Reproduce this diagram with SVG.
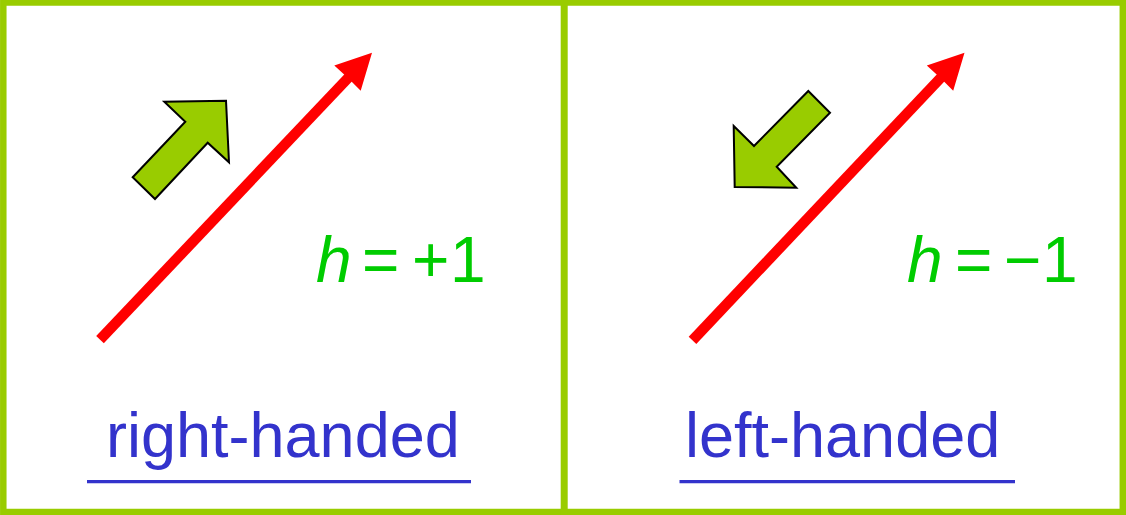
<svg xmlns="http://www.w3.org/2000/svg" width="1126" height="515" viewBox="0 0 1126 515">
<style>
.frame{fill:none;stroke:#99cc00;stroke-width:6.5}
.shaft{stroke:#ff0000;stroke-width:10.5;fill:none}
.head{fill:#ff0000}
.fat{fill:#99cc00;stroke:#000;stroke-width:2;stroke-linejoin:miter}
.math{font-family:"Liberation Sans",Arial,sans-serif;font-size:64px;fill:#00cc00}
.lab{font-family:"Liberation Sans",Arial,sans-serif;font-size:63px;fill:#3333cc}
.ul{stroke:#3333cc;stroke-width:3.3}
</style>
<rect width="1126" height="515" fill="#ffffff"/>
<g id="frame">
<rect class="frame" x="3.3" y="2.5" width="1119.5" height="509.5"/>
<line class="frame" x1="564.2" y1="0" x2="564.2" y2="515" style="stroke-width:7"/>
</g>
<g id="connectors">
<line class="shaft" x1="100" y1="339.7" x2="349" y2="77"/>
<polygon class="head" points="372,52.7 334.3,65.5 348,78 360.7,90.7"/>
<line class="shaft" x1="692.5" y1="340.3" x2="941.5" y2="77"/>
<polygon class="head" points="964.5,52.7 926.8,65.5 940.5,78 953.2,90.7"/>
</g>
<g id="spin-right">
<polygon class="fat" points="132.7,177.3 185.3,121.7 164.3,101.7 226,100.7 229,162.3 207.7,142.7 155,199"/>
</g>
<g id="spin-left">
<polygon class="fat" points="808.3,91 830,112.7 776.7,166.7 796.3,187.7 734.7,187 733.7,126 754,146"/>
</g>
<g id="label-plus">
<text class="math" x="316" y="282" font-style="italic">h</text>
<text class="math" x="362" y="282">=</text>
<text class="math" x="412" y="282">+</text>
<text class="math" x="450" y="282">1</text>
</g>
<g id="label-minus">
<text class="math" x="907" y="282" font-style="italic">h</text>
<text class="math" x="955" y="282">=</text>
<text class="math" x="1004" y="282">−</text>
<text class="math" x="1042" y="282">1</text>
</g>
<g id="right-handed">
<text class="lab" x="106" y="456.5">right-handed</text>
<line class="ul" x1="87" y1="481.7" x2="471" y2="481.7"/>
</g>
<g id="left-handed">
<text class="lab" x="685" y="456.5">left-handed</text>
<line class="ul" x1="679.5" y1="481.7" x2="1015" y2="481.7"/>
</g>
</svg>
